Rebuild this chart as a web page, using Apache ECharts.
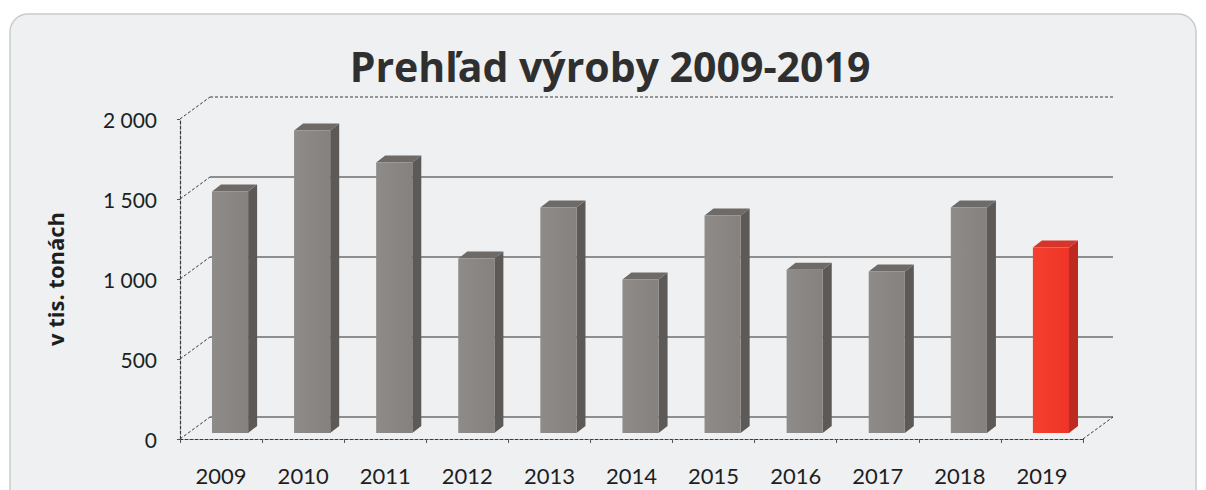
<!DOCTYPE html>
<html>
<head>
<meta charset="utf-8">
<script src="https://cdn.jsdelivr.net/npm/echarts@6/dist/echarts.min.js"></script>
<style>
html,body{margin:0;padding:0;background:#ffffff;}
#chart{width:1206px;height:490px;}
</style>
</head>
<body>
<div id="chart"></div>
<script>
// ---- data ----
const categories = ['2009','2010','2011','2012','2013','2014','2015','2016','2017','2018','2019'];
const values = [1510, 1890, 1690, 1090, 1410, 960, 1360, 1020, 1010, 1410, 1160];
const highlight = [false,false,false,false,false,false,false,false,false,false,true];
const yTicks = [0, 500, 1000, 1500, 2000];
const titleText = 'Prehľad výroby 2009-2019';
const yName = 'v tis. tonách';

// ---- style ----
const DX = 30, DY = 22;         // depth of 3D box
const BDX = 9, BDY = 7;         // depth of bars
const BOFFX = 9, BOFFY = 6;     // bar placement inside depth
const FONT = 'Lato, "Open Sans", sans-serif';
const BOLDFONT = '"Open Sans", Lato, sans-serif';

const chart = echarts.init(document.getElementById('chart'), null, {renderer: 'svg'});

function fmt(v){ return v >= 1000 ? String(v).replace(/(\d)(\d{3})$/, '$1 $2') : String(v); }

const gray = {front: new echarts.graphic.LinearGradient(0,0,1,0,[{offset:0,color:'#8f8b88'},{offset:1,color:'#85817e'}]), side:'#5d5956', top:'#6e6a67'};
const red  = {front: new echarts.graphic.LinearGradient(0,0,1,0,[{offset:0,color:'#f6402f'},{offset:1,color:'#ee3426'}]), side:'#bd2a1f', top:'#d5352a'};

const option = {
  backgroundColor: '#ffffff',
  animation: false,
  graphic: [
    {type:'rect', z:-10, shape:{x:10,y:14,width:1186,height:500,r:18},
     style:{fill:'#eef0f1', stroke:'#c9cbcc', lineWidth:1.5}},
    {type:'text', z:10, x:610, y:66,
     style:{text:titleText, font:'bold 41px ' + BOLDFONT, fill:'#2f2f2f', textAlign:'center', textVerticalAlign:'middle'}}
  ],
  grid: [{left:180, right:123, top:119, bottom:51}],
  xAxis: [{
    type:'category', data:categories, boundaryGap:true,
    axisLine:{show:true, lineStyle:{color:'#3a3a3a', width:1.2, type:[3,2]}},
    axisTick:{show:true, length:4, lineStyle:{color:'#555'}},
    axisLabel:{color:'#1e1e1e', fontSize:22, fontFamily:FONT, margin:25},
    splitLine:{show:false}
  }],
  yAxis: [{
    type:'value', min:0, max:2000, interval:500,
    name:yName, nameLocation:'middle', nameRotate:90, nameGap:114,
    nameTextStyle:{color:'#1e1e1e', fontSize:22, fontWeight:'bold', fontFamily:BOLDFONT},
    axisLine:{show:true, lineStyle:{color:'#3a3a3a', width:1.2, type:[3,2]}},
    axisTick:{show:true, length:3, lineStyle:{color:'#555'}},
    axisLabel:{color:'#1e1e1e', fontSize:21, fontFamily:FONT, margin:23, formatter:fmt},
    splitLine:{show:false}
  }],
  series: [
    {
      type:'custom', name:'frame', z:1,
      data: yTicks.map(v => [0, v]),
      renderItem: function(params, api){
        const cs = params.coordSys;
        const v = api.value(1);
        const y = api.coord([0, v])[1];
        const x0 = cs.x, x1 = cs.x + cs.width;
        const isTop = v === yTicks[yTicks.length-1];
        const children = [
          {type:'line', shape:{x1:x0, y1:y, x2:x0+DX, y2:y-DY},
           style:{stroke:'#3a3a3a', lineWidth:1, lineDash:[3,2]}},
          {type:'line', shape:{x1:x0+DX, y1:y-DY, x2:x1+DX, y2:y-DY},
           style: isTop ? {stroke:'#3a3a3a', lineWidth:1.2, lineDash:[3,2]}
                        : {stroke:'#8e8e8e', lineWidth:2}}
        ];
        if (v === 0) {
          children.push({type:'line', shape:{x1:x1, y1:y, x2:x1+DX, y2:y-DY},
            style:{stroke:'#3a3a3a', lineWidth:1, lineDash:[3,2]}});
        }
        return {type:'group', children: children};
      }
    },
    {
      type:'custom', name:'Výroba', z:5,
      data: values.map((v, i) => [i, v]),
      renderItem: function(params, api){
        const i = api.value(0), v = api.value(1);
        const top = api.coord([i, v]);
        const bot = api.coord([i, 0]);
        const bw = api.size([1, 0])[0];
        const w = bw * 0.44;
        const left = top[0] + BOFFX - w/2;
        const right = left + w;
        const yT = top[1] - BOFFY, yB = bot[1] - BOFFY;
        const c = highlight[i] ? red : gray;
        return {type:'group', children:[
          {type:'polygon', shape:{points:[[right,yT],[right+BDX,yT-BDY],[right+BDX,yB-BDY],[right,yB]]},
           style:{fill:c.side}},
          {type:'polygon', shape:{points:[[left,yT],[left+BDX,yT-BDY],[right+BDX,yT-BDY],[right,yT]]},
           style:{fill:c.top}},
          {type:'rect', shape:{x:left, y:yT, width:w, height:yB-yT},
           style:{fill:c.front}}
        ]};
      }
    }
  ]
};
chart.setOption(option);
</script>
</body>
</html>
